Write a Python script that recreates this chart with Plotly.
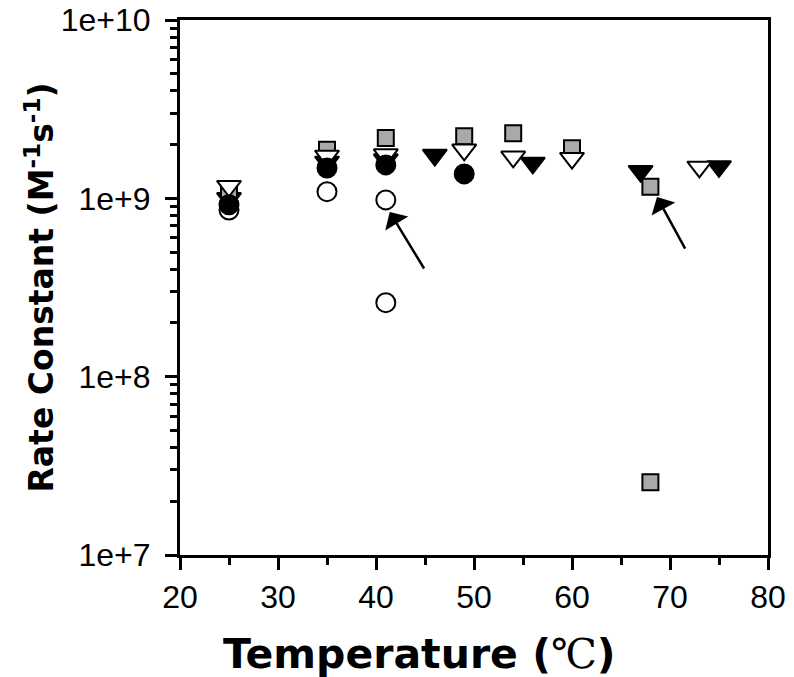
import plotly.graph_objects as go

# ---- data ----
open_circle_T = [25, 35, 41, 41]
open_circle_k = [8.6e8, 1.09e9, 9.8e8, 2.6e8]

filled_circle_T = [25, 35, 41, 49]
filled_circle_k = [9.2e8, 1.48e9, 1.54e9, 1.37e9]

open_tri_T = [25, 35, 41, 49, 54, 60, 73]
open_tri_k = [1.17e9, 1.73e9, 1.76e9, 1.87e9, 1.71e9, 1.68e9, 1.5e9]

filled_tri_T = [25, 35, 41, 46, 56, 67, 75]
filled_tri_k = [1.0e9, 1.6e9, 1.65e9, 1.75e9, 1.58e9, 1.42e9, 1.51e9]

square_T = [25, 35, 41, 49, 54, 60, 68, 68]
square_k = [1.12e9, 1.87e9, 2.18e9, 2.23e9, 2.32e9, 1.91e9, 1.16e9, 2.56e7]

y_tickvals = [1e7, 1e8, 1e9, 1e10]
y_ticktext = ["1e+7", "1e+8", "1e+9", "1e+10"]
x_tickvals = [20, 30, 40, 50, 60, 70, 80]

# arrows: (head_T, head_logk, tail_T, tail_logk)
arrows = [(41.4, 8.923, 45.0, 8.598), (68.67, 9.007, 71.63, 8.71)]

fig = go.Figure()

def add(T, k, symbol, fill, size):
    fig.add_trace(go.Scatter(
        x=T, y=k, mode="markers",
        marker=dict(symbol=symbol, size=size, color=fill,
                    line=dict(color="black", width=2)),
        showlegend=False, cliponaxis=False, hoverinfo="skip"))

add(filled_tri_T, filled_tri_k, "triangle-down", "black", 21)
add(square_T, square_k, "square", "#a9a9a9", 16)
add(open_tri_T, open_tri_k, "triangle-down", "white", 21)
add(open_circle_T, open_circle_k, "circle", "white", 19)
add(filled_circle_T, filled_circle_k, "circle", "black", 19)

for hx, hy, tx, ty in arrows:
    fig.add_annotation(x=hx, y=hy, ax=tx, ay=ty, xref="x", yref="y",
                       axref="x", ayref="y", showarrow=True, text="",
                       arrowhead=1, arrowsize=1.8, arrowwidth=2.5,
                       arrowcolor="black")

fig.add_annotation(text="Temperature (<span style='font-family:\"DejaVu Serif\";font-weight:normal'>℃</span>)",
                   xref="paper", yref="paper", x=0.408, y=-0.185,
                   xanchor="center", yanchor="middle", showarrow=False,
                   font=dict(family="DejaVu Sans", size=41, color="black", weight="bold"))
fig.add_annotation(text="Rate Constant (M<sup>-1</sup>s<sup>-1</sup>)",
                   xref="paper", yref="paper", x=-0.238, y=0.5,
                   xanchor="center", yanchor="middle",
                   textangle=-90, showarrow=False,
                   font=dict(family="DejaVu Sans", size=33, color="black", weight="bold"))

fig.update_xaxes(range=[20, 80], tickvals=x_tickvals, ticks="outside",
                 ticklen=12, tickwidth=3, tickcolor="black",
                 showline=True, linewidth=3, linecolor="black", mirror=True,
                 showgrid=False, zeroline=False, ticklabelstandoff=0,
                 automargin=False, ticklabeloverflow="allow",
                 tickfont=dict(family="Liberation Sans", size=32, color="black"),
                 minor=dict(tickvals=[25, 35, 45, 55, 65, 75], ticks="outside",
                            ticklen=7, tickwidth=3, tickcolor="black", showgrid=False))
fig.update_yaxes(type="log", range=[7, 10], tickvals=y_tickvals, ticktext=y_ticktext,
                 ticks="outside", ticklen=12, tickwidth=3, tickcolor="black",
                 showline=True, linewidth=3, linecolor="black", mirror=True,
                 showgrid=False, zeroline=False, ticklabelstandoff=8,
                 automargin=False, ticklabeloverflow="allow",
                 tickfont=dict(family="Liberation Sans", size=32, color="black"),
                 minor=dict(ticks="outside", ticklen=7, tickwidth=3,
                            tickcolor="black", showgrid=False, dtick="D1"))

fig.update_layout(width=794, height=677, plot_bgcolor="white", paper_bgcolor="white",
                  margin=dict(l=180, r=26, t=20, b=122, autoexpand=False),
                  showlegend=False, hovermode=False)

# remove the default 8px page margin so the figure fills the window exactly
fig.write_html("out.html", config={"displayModeBar": False},
               post_script="document.body.style.margin='0';document.body.style.overflow='hidden';")
